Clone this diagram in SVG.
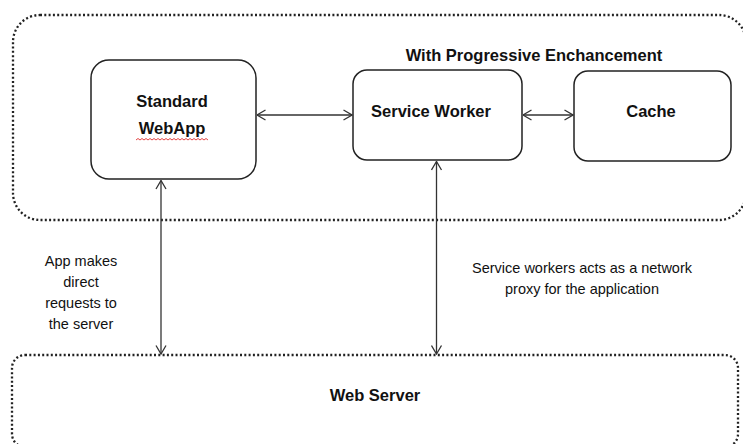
<svg xmlns="http://www.w3.org/2000/svg" width="743" height="444" viewBox="0 0 743 444">
<style>
.bg{fill:#fff}
.dotted{fill:none;stroke:#222;stroke-width:2.3;stroke-dasharray:2 2.3}
.box{fill:#fff;stroke:#222;stroke-width:1.5}
.conn{fill:none;stroke:#333;stroke-width:1.3}
.bold{font-family:"Liberation Sans",Arial,sans-serif;font-weight:bold;font-size:16.5px;fill:#111;text-anchor:middle}
.reg{font-family:"Liberation Sans",Arial,sans-serif;font-size:14.5px;fill:#111;text-anchor:middle}
.spell{fill:none;stroke:#e03030;stroke-width:0.9}
</style>
<defs>
<marker id="arr" markerUnits="userSpaceOnUse" viewBox="0 0 10 12" refX="9.5" refY="6" markerWidth="10" markerHeight="12" orient="auto-start-reverse">
<path d="M1,1 L9.5,6 L1,11" fill="none" stroke="#333" stroke-width="1.3"/>
</marker>
</defs>
<rect class="bg" x="0" y="0" width="743" height="444"/>
<g id="container-progressive">
<rect class="dotted" x="13" y="15" width="733" height="205" rx="27" ry="27"/>
<text class="bold" x="534" y="61">With Progressive Enchancement</text>
</g>
<g id="web-server">
<rect class="dotted" x="12" y="355" width="726" height="92" rx="13" ry="13"/>
<text class="bold" x="375" y="401">Web Server</text>
</g>
<g id="standard-webapp">
<rect class="box" x="91" y="60" width="165" height="119" rx="18" ry="18"/>
<text class="bold" x="172" y="107">Standard</text>
<text class="bold" x="172" y="134">WebApp</text>
<path class="spell" d="M136,140 l2,-1.5 l2,1.5 l2,-1.5 l2,1.5 l2,-1.5 l2,1.5 l2,-1.5 l2,1.5 l2,-1.5 l2,1.5 l2,-1.5 l2,1.5 l2,-1.5 l2,1.5 l2,-1.5 l2,1.5 l2,-1.5 l2,1.5 l2,-1.5 l2,1.5 l2,-1.5 l2,1.5 l2,-1.5 l2,1.5 l2,-1.5 l2,1.5 l2,-1.5 l2,1.5 l2,-1.5 l2,1.5 l2,-1.5 l2,1.5 l2,-1.5 l2,1.5 l2,-1.5 l2,1.5"/>
</g>
<g id="service-worker">
<rect class="box" x="353" y="70" width="169" height="90" rx="14" ry="14"/>
<text class="bold" x="431" y="117">Service Worker</text>
</g>
<g id="cache">
<rect class="box" x="574" y="71" width="157" height="90" rx="14" ry="14"/>
<text class="bold" x="651" y="117">Cache</text>
</g>
<g id="connectors">
<line class="conn" x1="257" y1="115" x2="352" y2="115" marker-start="url(#arr)" marker-end="url(#arr)"/>
<line class="conn" x1="523" y1="115" x2="573" y2="115" marker-start="url(#arr)" marker-end="url(#arr)"/>
<line class="conn" x1="161" y1="180.5" x2="161" y2="354" marker-start="url(#arr)" marker-end="url(#arr)"/>
<line class="conn" x1="436.5" y1="161.5" x2="436.5" y2="354" marker-start="url(#arr)" marker-end="url(#arr)"/>
</g>
<g id="labels">
<text class="reg" x="81" y="266">App makes</text>
<text class="reg" x="81" y="287">direct</text>
<text class="reg" x="81" y="308">requests to</text>
<text class="reg" x="81" y="329">the server</text>
<text class="reg" x="582" y="273">Service workers acts as a network</text>
<text class="reg" x="582" y="294">proxy for the application</text>
</g>
</svg>
